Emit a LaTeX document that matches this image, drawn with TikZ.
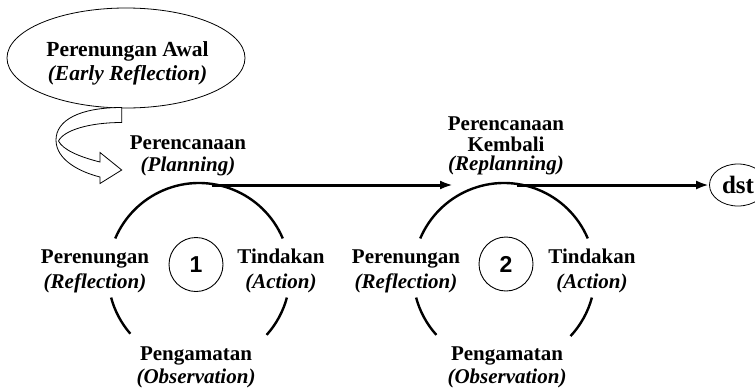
\documentclass[tikz,border=0pt]{standalone}
\usepackage{fontspec}
\setmainfont{Liberation Serif}
\newfontfamily\numfont{Liberation Sans}
\usetikzlibrary{arrows.meta,shapes.geometric}
\newcommand{\lbl}[1]{\begin{tabular}[t]{@{}c@{}}#1\end{tabular}}
\begin{document}
\begin{tikzpicture}[x=1pt,y=-1pt,
  lab/.style={anchor=base, inner sep=0pt, font=\fontsize{21}{24}\selectfont\bfseries},
  cyc/.style={line width=2.4pt},
  num/.style={circle, draw, line width=0.9pt, minimum size=54pt, inner sep=0pt, font=\numfont\fontsize{23}{23}\selectfont\bfseries},
  flow/.style={line width=3pt, -{Latex[length=13pt,width=9pt]}},
  thin/.style={draw, line width=0.8pt},
]
\useasboundingbox (0,0) rectangle (755,389);

% early reflection ellipse
\node[ellipse, thin, minimum width=238pt, minimum height=100pt, inner sep=0pt] (early) at (126,58) {};
\node[anchor=base, inner sep=0pt, font=\fontsize{21.5}{24}\selectfont\bfseries] (earlytext) at (127.5,56)
  {\lbl{Perenungan Awal\\\textit{(Early Reflection)}}};

% curved ribbon arrow
\draw[line width=0.8pt, fill=white] (121.7,107.5) .. controls (80,107.5) and (56,120) .. (56,140)
  .. controls (56,160) and (80,172) .. (100,177) -- (100,183.5) -- (121.7,170) -- (100,152.5) -- (100,162)
  .. controls (80,157) and (63,150) .. (58.5,141)
  .. controls (64,130) and (90,122.5) .. (121.7,122.5) -- cycle;

% cycle centres
\coordinate (c1) at (199,274);
\coordinate (c2) at (504,274);

% cycle 1
\draw[cyc] ([shift={(-23:91)}]c1) arc[start angle=-23, end angle=-157, radius=91];
\draw[cyc] ([shift={(-195:91)}]c1) arc[start angle=-195, end angle=-221, radius=91];
\draw[cyc] ([shift={(-318:91)}]c1) arc[start angle=-318, end angle=-345, radius=91];
% cycle 2
\draw[cyc] ([shift={(-23:91)}]c2) arc[start angle=-23, end angle=-157, radius=91];
\draw[cyc] ([shift={(-195:91)}]c2) arc[start angle=-195, end angle=-222, radius=91];
\draw[cyc] ([shift={(-317:91)}]c2) arc[start angle=-317, end angle=-345, radius=91];

\node[num] (n1) at (196,264.5) {1};
\node[num] (n2) at (506,264) {2};

% labels cycle 1
\node[lab] (plan1) at (188,149) {\lbl{Perencanaan\\[-1.3pt]\textit{(Planning)}}};
\node[lab] (ref1) at (95,263) {\lbl{Perenungan\\[1pt]\textit{(Reflection)}}};
\node[lab] (act1) at (281,263) {\lbl{Tindakan\\[1pt]\textit{(Action)}}};
\node[lab] (obs1) at (196,360) {\lbl{Pengamatan\\[-0.7pt]\textit{(Observation)}}};
% labels cycle 2
\node[lab] (plan2) at (506,130) {\lbl{Perencanaan\\[-3pt]Kembali\\[-4.5pt]\textit{(Replanning)}}};
\node[lab] (ref2) at (406,263) {\lbl{Perenungan\\[1pt]\textit{(Reflection)}}};
\node[lab] (act2) at (592,263) {\lbl{Tindakan\\[1pt]\textit{(Action)}}};
\node[lab] (obs2) at (507,360) {\lbl{Pengamatan\\[-0.7pt]\textit{(Observation)}}};

% dst
\node[ellipse, thin, minimum width=57pt, minimum height=42pt, inner sep=0pt,
  font=\fontsize{25}{25}\selectfont\bfseries] (dst) at (738,185) {dst};

% arrows
\coordinate (a1s) at (212,185);
\coordinate (a1e) at (453,185);
\coordinate (a2s) at (517,185);
\draw[flow] (a1s) -- (a1e);
\draw[flow] (a2s) -- (dst);
\end{tikzpicture}
\end{document}
